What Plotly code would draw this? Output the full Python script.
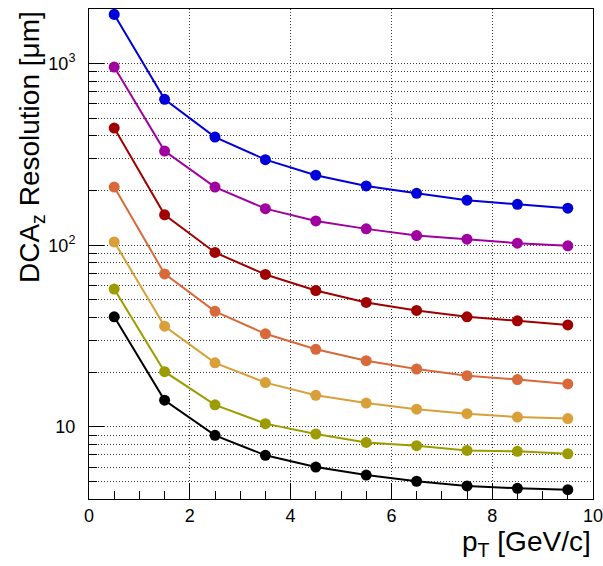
import plotly.graph_objects as go

pt = [0.5, 1.5, 2.5, 3.5, 4.5, 5.5, 6.5, 7.5, 8.5, 9.5]

s_blue = [1867, 636, 394, 296, 243, 212, 193, 177, 168, 160]
s_purple = [958, 330, 209, 159, 136, 123, 113, 108, 102.6, 99.2]
s_darkred = [442, 147, 91.2, 69, 56.3, 48.4, 43.7, 40.3, 38.3, 36.4]
s_orange = [209, 69.5, 43.2, 32.5, 26.7, 23.1, 20.8, 19.1, 18.2, 17.2]
s_gold = [104.3, 35.8, 22.5, 17.5, 14.9, 13.5, 12.5, 11.8, 11.3, 11.1]
s_olive = [57.3, 20.1, 13.2, 10.4, 9.12, 8.2, 7.86, 7.41, 7.32, 7.1]
s_black = [40.3, 14.0, 8.97, 6.96, 6.0, 5.42, 5.01, 4.72, 4.58, 4.50]

series = [s_blue, s_purple, s_darkred, s_orange, s_gold, s_olive, s_black]
colors = ["#0000d8", "#a000a0", "#a00000", "#d8693a", "#d9a03a", "#9c9c00", "#000000"]

y_major = [10, 100, 1000]
y_major_text = ["10", "10<sup>2</sup>", "10<sup>3</sup>"]
y_minor = [5, 6, 7, 8, 9, 20, 30, 40, 50, 60, 70, 80, 90,
           200, 300, 400, 500, 600, 700, 800, 900, 2000]
x_major = [0, 2, 4, 6, 8, 10]
x_major_text = ["0", "2", "4", "6", "8", "10"]
x_minor = [0.5, 1, 1.5, 2.5, 3, 3.5, 4.5, 5, 5.5, 6.5, 7, 7.5, 8.5, 9, 9.5]

fig = go.Figure()
for ys, c in zip(series, colors):
    fig.add_trace(go.Scatter(
        x=pt, y=ys, mode="lines+markers",
        line=dict(color=c, width=2),
        marker=dict(color=c, size=11, symbol="circle"),
        showlegend=False,
    ))

grid_col = "#3a3a3a"
font_family = "Liberation Sans, Arial, Helvetica, sans-serif"

fig.update_layout(
    width=603, height=566,
    margin=dict(l=89, r=10, t=9, b=67, autoexpand=False),
    paper_bgcolor="white", plot_bgcolor="white",
    font=dict(family=font_family, color="black"),
    xaxis=dict(
        range=[0, 10], tickmode="array", tickvals=x_major, ticktext=x_major_text,
        ticks="inside", ticklen=16, tickwidth=1, tickcolor="black",
        showline=True, linecolor="black", linewidth=1, mirror=True,
        showgrid=True, gridcolor=grid_col, gridwidth=1, griddash="1px,2px",
        zeroline=False, automargin=False, ticklabeloverflow="allow",
        tickfont=dict(size=18, family=font_family),
        minor=dict(tickmode="array", tickvals=x_minor, ticks="inside", ticklen=8,
                   tickcolor="black", tickwidth=1, showgrid=False),
    ),
    yaxis=dict(
        type="log", range=[0.602, 3.301],
        tickmode="array", tickvals=y_major, ticktext=y_major_text,
        ticks="inside", ticklen=15, tickwidth=1, tickcolor="black",
        showline=True, linecolor="black", linewidth=1, mirror=True,
        showgrid=True, gridcolor=grid_col, gridwidth=1, griddash="1px,2px",
        zeroline=False, ticklabelstandoff=9, automargin=False,
        tickfont=dict(size=18, family=font_family),
        minor=dict(tickmode="array", tickvals=y_minor, ticks="inside",
                   ticklen=8, tickcolor="black", tickwidth=1,
                   showgrid=True, gridcolor=grid_col, gridwidth=1,
                   griddash="1px,2px"),
    ),
    annotations=[
        dict(text="DCA<sub>z</sub> Resolution [μm]", xref="paper", yref="paper",
             x=-0.115, y=1.0, xanchor="center", yanchor="top", textangle=-90,
             showarrow=False, font=dict(size=28, family=font_family, color="black")),
        dict(text="p<sub>T</sub> [GeV/c]", xref="paper", yref="paper",
             x=1.0, y=-0.05, xanchor="right", yanchor="top",
             showarrow=False, font=dict(size=28, family=font_family, color="black")),
    ],
)

fig.write_html("out.html", config={"displayModeBar": False},
               post_script="document.body.style.margin='0px';document.body.style.padding='0px';")
